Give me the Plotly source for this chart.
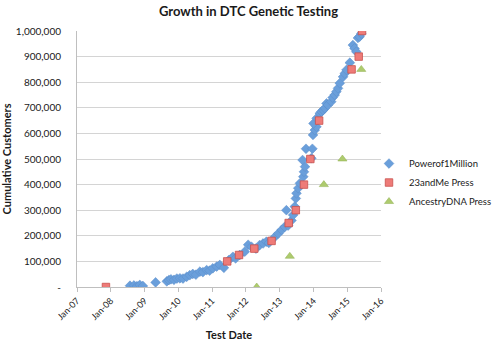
import plotly.graph_objects as go

p1m_dates = ["2008-07-27", "2008-09-08", "2008-10-11", "2008-11-10", "2008-12-13",
             "2009-04-30", "2009-08-29", "2009-09-20", "2009-10-12", "2009-11-14",
             "2009-12-16", "2010-01-18", "2010-02-20", "2010-04-01", "2010-05-04",
             "2010-06-06", "2010-07-09", "2010-08-22", "2010-09-23", "2010-11-03",
             "2010-12-05", "2011-01-08", "2011-02-20", "2011-03-25", "2011-05-08",
             "2011-07-01", "2011-08-14", "2011-09-12", "2011-10-26", "2011-12-20",
             "2012-01-26", "2012-03-02", "2012-04-19", "2012-05-29", "2012-07-05",
             "2012-08-10", "2012-09-05", "2012-11-10", "2012-12-16", "2013-01-22",
             "2013-02-24", "2013-03-14", "2013-04-01", "2013-05-08", "2013-05-26",
             "2013-06-13", "2013-06-24", "2013-07-01", "2013-07-20", "2013-08-07",
             "2013-09-13", "2013-09-20", "2013-10-01", "2013-09-05", "2013-10-12",
             "2013-12-09", "2013-12-20", "2013-12-27", "2014-01-15", "2014-02-02",
             "2014-01-01", "2014-02-04", "2014-03-10", "2014-03-29", "2014-04-16",
             "2014-05-04", "2014-05-22", "2014-06-06", "2014-07-12", "2014-07-27",
             "2014-08-18", "2014-09-05", "2014-09-23", "2014-10-12", "2014-11-17",
             "2014-12-05", "2014-12-24", "2015-01-29", "2015-03-03", "2015-03-21",
             "2015-04-09", "2015-04-27", "2015-05-15", "2015-06-02"]
p1m_values = [5000, 6000, 3000, 8000, 4000,
              18000, 22000, 27000, 30000, 28000,
              33000, 34000, 33000, 40000, 46000,
              51000, 48000, 60000, 58000, 66000,
              64000, 73000, 80000, 86000, 75000,
              105000, 118000, 112000, 125000, 138000,
              165000, 157000, 150000, 164000, 170000,
              177000, 172000, 196000, 209000, 223000,
              235000, 300000, 240000, 260000, 281000,
              314000, 346000, 366000, 386000, 405000,
              431000, 450000, 470000, 496000, 540000,
              503000, 540000, 594000, 613000, 626000,
              639000, 659000, 678000, 685000, 691000,
              698000, 717000, 711000, 724000, 740000,
              750000, 763000, 776000, 796000, 821000,
              834000, 848000, 876000, 945000, 932000,
              919000, 973000, 978000, 990000]

me_dates = ["2007-11-10", "2011-06-13", "2011-10-19", "2012-04-01", "2012-10-05",
            "2013-04-08", "2013-06-24", "2013-09-20", "2013-11-28", "2014-03-03",
            "2015-02-17", "2015-05-05", "2015-06-10"]
me_values = [0, 100000, 125000, 150000, 180000,
             250000, 300000, 400000, 500000, 650000,
             850000, 900000, 1000000]

anc_dates = ["2012-04-27", "2013-04-20", "2014-04-23", "2014-11-10", "2015-06-02"]
anc_values = [0, 120000, 400000, 500000, 850000]

x_tick_vals = ["2007-01-01", "2008-01-01", "2009-01-01", "2010-01-01", "2011-01-01",
               "2012-01-01", "2013-01-01", "2014-01-01", "2015-01-01", "2016-01-01"]
x_tick_text = ["Jan-07", "Jan-08", "Jan-09", "Jan-10", "Jan-11",
               "Jan-12", "Jan-13", "Jan-14", "Jan-15", "Jan-16"]
y_tick_vals = [0, 100000, 200000, 300000, 400000, 500000, 600000, 700000, 800000, 900000, 1000000]
y_tick_text = ["-", "100,000", "200,000", "300,000", "400,000", "500,000",
               "600,000", "700,000", "800,000", "900,000", "1,000,000"]

FONT = "Lato"

fig = go.Figure()
fig.add_trace(go.Scatter(
    x=p1m_dates, y=p1m_values, mode="markers", name="Powerof1Million",
    marker=dict(symbol="diamond", size=7.5, color="#6A9FDB",
                line=dict(color="#5A8CC8", width=0.5))))
fig.add_trace(go.Scatter(
    x=me_dates, y=me_values, mode="markers", name="23andMe Press",
    marker=dict(symbol="square", size=7.5, color="#EE7B78",
                line=dict(color="#C9504E", width=0.8))))
fig.add_trace(go.Scatter(
    x=anc_dates, y=anc_values, mode="markers", name="AncestryDNA Press",
    marker=dict(symbol="triangle-up", size=8, color="#AECB6E",
                line=dict(color="#8FAF4F", width=0.5))))

fig.update_layout(
    width=500, height=341,
    margin=dict(l=77, r=119, t=31, b=54, autoexpand=False),
    paper_bgcolor="white", plot_bgcolor="white",
    font=dict(family=FONT, color="#1a1a1a", size=10),
    title=dict(text="<b>Growth in DTC Genetic Testing</b>", x=0.497, xanchor="center",
               y=0.965, yanchor="middle", font=dict(size=13, family=FONT)),
    showlegend=True,
    legend=dict(xref="container", yref="container", x=0.738, xanchor="left",
                y=0.563, yanchor="top",
                font=dict(size=9.5, family=FONT), itemwidth=30,
                tracegroupgap=0, bgcolor="rgba(0,0,0,0)"),
    xaxis=dict(type="date", range=["2007-01-01", "2016-01-01"],
               tickvals=x_tick_vals, ticktext=x_tick_text, tickangle=-45,
               tickfont=dict(size=9), showgrid=False, showline=True,
               linecolor="#BFBFBF", linewidth=1, ticks="outside", ticklen=4,
               tickcolor="#BFBFBF", zeroline=False,
               title=dict(text="<b>Test Date</b>", font=dict(size=11), standoff=10)),
    yaxis=dict(range=[0, 1000000], tickvals=y_tick_vals, ticktext=y_tick_text,
               tickfont=dict(size=10), showgrid=True, gridcolor="#D4D4D4", gridwidth=1,
               showline=True, linecolor="#BFBFBF", linewidth=1, zeroline=False,
               ticks="", ticklabelstandoff=13,
               title=dict(text="<b>Cumulative Customers</b>", font=dict(size=11), standoff=4)),
)

fig.write_html("out.html")
